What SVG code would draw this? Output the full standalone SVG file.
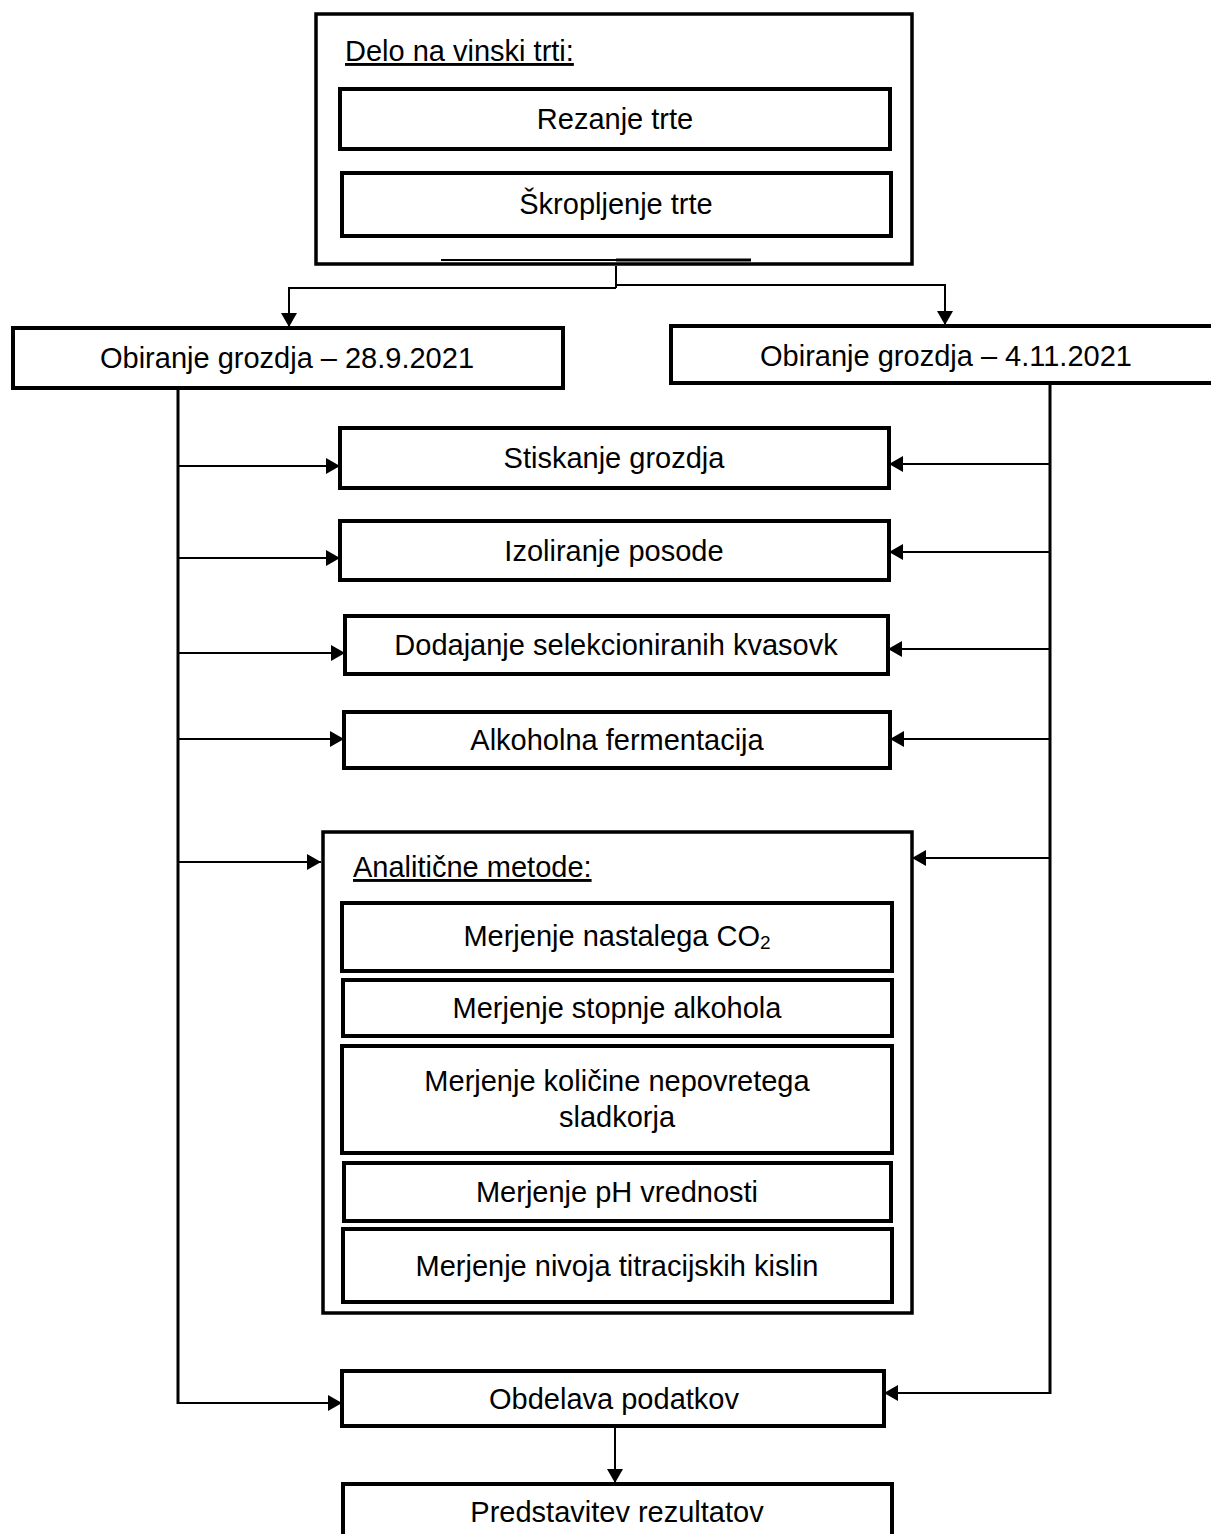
<svg xmlns="http://www.w3.org/2000/svg" width="1211" height="1534" viewBox="0 0 1211 1534">
<style>
.box{fill:#fff;stroke:#000;stroke-width:4}
.outer{fill:#fff;stroke:#000;stroke-width:3.5}
.t{font-family:"Liberation Sans",Arial,sans-serif;font-size:29px;fill:#000;text-anchor:middle}
.h{font-family:"Liberation Sans",Arial,sans-serif;font-size:29px;fill:#000;text-decoration:underline}
.c{fill:none;stroke:#000;stroke-width:2}
.trunk{fill:none;stroke:#000;stroke-width:3}
</style>
<defs>
<marker id="arr" markerUnits="userSpaceOnUse" markerWidth="14" markerHeight="16" refX="14" refY="8" orient="auto">
<path d="M0,0 L14,8 L0,16 z" fill="#000"/>
</marker>
</defs>
<rect width="1211" height="1534" fill="#fff"/>

<g id="delo">
<rect class="outer" x="316" y="14" width="596" height="250"/>
<text class="h" x="345" y="61">Delo na vinski trti:</text>
</g>
<g id="rezanje"><rect class="box" x="340" y="89" width="550" height="60"/><text class="t" x="615" y="129">Rezanje trte</text></g>
<g id="skropljenje"><rect class="box" x="342" y="173" width="549" height="63"/><text class="t" x="616" y="214">Škropljenje trte</text></g>

<g id="obiranje1"><rect class="box" x="13" y="328" width="550" height="60"/><text class="t" x="287" y="368">Obiranje grozdja – 28.9.2021</text></g>
<g id="obiranje2"><rect class="box" x="671" y="326" width="560" height="57"/><text class="t" x="946" y="366">Obiranje grozdja – 4.11.2021</text></g>

<g id="stiskanje"><rect class="box" x="340" y="428" width="549" height="60"/><text class="t" x="614" y="468">Stiskanje grozdja</text></g>
<g id="izoliranje"><rect class="box" x="340" y="521" width="549" height="59"/><text class="t" x="614" y="561">Izoliranje posode</text></g>
<g id="dodajanje"><rect class="box" x="345" y="616" width="543" height="58"/><text class="t" x="616" y="655">Dodajanje selekcioniranih kvasovk</text></g>
<g id="alkoholna"><rect class="box" x="344" y="712" width="546" height="56"/><text class="t" x="617" y="750">Alkoholna fermentacija</text></g>

<g id="analiticne">
<rect class="outer" x="323" y="832" width="589" height="481"/>
<text class="h" x="353" y="877">Analitične metode:</text>
</g>
<g id="co2"><rect class="box" x="342" y="903" width="550" height="68"/><text class="t" x="617" y="946">Merjenje nastalega CO<tspan font-size="19" dy="3">2</tspan></text></g>
<g id="stopnja"><rect class="box" x="343" y="980" width="549" height="56"/><text class="t" x="617" y="1018">Merjenje stopnje alkohola</text></g>
<g id="kolicina"><rect class="box" x="342" y="1046" width="550" height="107"/><text class="t" x="617" y="1091">Merjenje količine nepovretega</text><text class="t" x="617" y="1127">sladkorja</text></g>
<g id="ph"><rect class="box" x="344" y="1163" width="547" height="58"/><text class="t" x="617" y="1202">Merjenje pH vrednosti</text></g>
<g id="kisline"><rect class="box" x="343" y="1229" width="549" height="73"/><text class="t" x="617" y="1276">Merjenje nivoja titracijskih kislin</text></g>

<g id="obdelava"><rect class="box" x="342" y="1371" width="542" height="55"/><text class="t" x="614" y="1409">Obdelava podatkov</text></g>
<g id="predstavitev"><rect class="box" x="343" y="1484" width="549" height="60"/><text class="t" x="617" y="1522">Predstavitev rezultatov</text></g>

<g id="connectors">
<line class="c" x1="441" y1="260" x2="616" y2="260"/>
<line stroke="#000" stroke-width="3" x1="616" y1="260" x2="751" y2="260"/>
<line class="c" x1="616" y1="266" x2="616" y2="288"/>
<polyline class="c" points="616,288 289,288 289,327" marker-end="url(#arr)"/>
<polyline class="c" points="616,285 945,285 945,325" marker-end="url(#arr)"/>
<line class="trunk" x1="178" y1="390" x2="178" y2="1404"/>
<line class="trunk" x1="1050" y1="385" x2="1050" y2="1394"/>
<line class="c" x1="178" y1="466" x2="340" y2="466" marker-end="url(#arr)"/>
<line class="c" x1="178" y1="558" x2="340" y2="558" marker-end="url(#arr)"/>
<line class="c" x1="178" y1="653" x2="345" y2="653" marker-end="url(#arr)"/>
<line class="c" x1="178" y1="739" x2="344" y2="739" marker-end="url(#arr)"/>
<line class="c" x1="178" y1="862" x2="321" y2="862" marker-end="url(#arr)"/>
<line class="c" x1="178" y1="1403" x2="342" y2="1403" marker-end="url(#arr)"/>
<line class="c" x1="1050" y1="464" x2="889" y2="464" marker-end="url(#arr)"/>
<line class="c" x1="1050" y1="552" x2="889" y2="552" marker-end="url(#arr)"/>
<line class="c" x1="1050" y1="649" x2="888" y2="649" marker-end="url(#arr)"/>
<line class="c" x1="1050" y1="739" x2="890" y2="739" marker-end="url(#arr)"/>
<line class="c" x1="1050" y1="858" x2="912" y2="858" marker-end="url(#arr)"/>
<line class="c" x1="1050" y1="1393" x2="884" y2="1393" marker-end="url(#arr)"/>
<line class="c" x1="615" y1="1428" x2="615" y2="1483" marker-end="url(#arr)"/>
</g>
</svg>
